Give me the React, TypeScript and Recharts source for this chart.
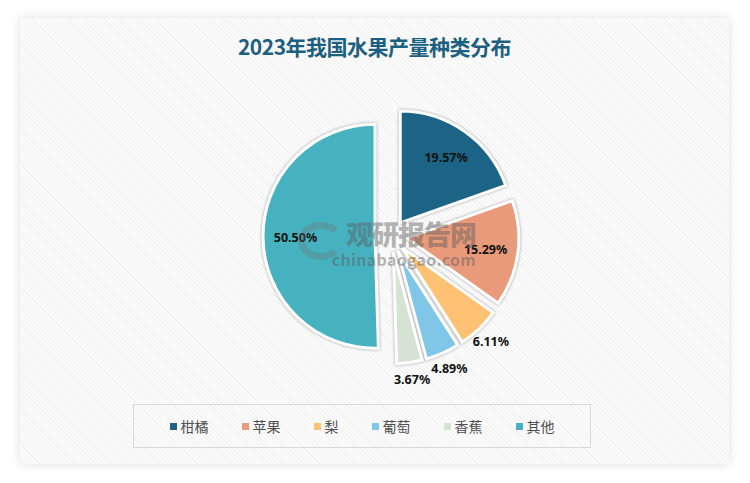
import { PieChart, Pie, Cell, Sector, Legend } from "recharts";

const TITLE = "2023年我国水果产量种类分布";
const CATEGORIES = ["柑橘", "苹果", "梨", "葡萄", "香蕉", "其他"];
const SHARES = [19.57, 15.29, 6.11, 4.89, 3.67, 50.5];
const COLORS = ["#1b6485", "#e89a7a", "#ffc274", "#80c6e7", "#d4e3d2", "#47b2bf"];

const RAD = Math.PI / 180;
const EXPLODE = 16;

const data = CATEGORIES.map((name, i) => ({ name, value: SHARES[i] }));

// every slice is pulled out along its mid angle
const renderSlice = (props: any) => {
  const { cx, cy, midAngle, innerRadius, outerRadius, startAngle, endAngle, fill } = props;
  const dx = EXPLODE * Math.cos(-midAngle * RAD);
  const dy = EXPLODE * Math.sin(-midAngle * RAD);
  return (
    <Sector
      cx={cx + dx}
      cy={cy + dy}
      innerRadius={innerRadius}
      outerRadius={outerRadius}
      startAngle={startAngle}
      endAngle={endAngle}
      fill={fill}
      stroke="#ffffff"
      strokeWidth={3}
      style={{ filter: "drop-shadow(0 0 1.5px rgba(0,0,0,0.35))" }}
    />
  );
};

const renderLabel = (props: any) => {
  const { cx, cy, midAngle, outerRadius, percent, value } = props;
  const r = (percent > 0.1 ? outerRadius * 0.71 : outerRadius + 17) + EXPLODE;
  const x = cx + r * Math.cos(-midAngle * RAD);
  const y = cy + r * Math.sin(-midAngle * RAD);
  return (
    <text
      x={x}
      y={y}
      textAnchor="middle"
      dominantBaseline="central"
      fontFamily="'Noto Sans', sans-serif"
      fontWeight={700}
      fontSize={12.5}
      fill="#111"
    >
      {Number(value).toFixed(2)}%
    </text>
  );
};

const renderLegend = (props: any) => {
  const items = [...(props.payload || [])].sort(
    (a: any, b: any) => CATEGORIES.indexOf(a.value) - CATEGORIES.indexOf(b.value)
  );
  return (
    <div
      style={{
        width: 458,
        height: 44,
        border: "1.5px solid #d9d9d9",
        display: "flex",
        alignItems: "center",
        justifyContent: "center",
        gap: 33,
        boxSizing: "border-box",
        fontFamily: "'Noto Sans CJK SC', sans-serif",
        fontSize: 14,
        color: "#505050",
      }}
    >
      {items.map((entry: any) => (
        <span key={entry.value} style={{ display: "flex", alignItems: "center", gap: 4 }}>
          <span style={{ width: 7, height: 7, background: entry.color, display: "inline-block" }} />
          {entry.value}
        </span>
      ))}
    </div>
  );
};

export default function App() {
  return (
    <div style={{ position: "absolute", left: 0, top: 0, width: 750, height: 483, background: "#fff" }}>
      <div
        style={{
          position: "absolute",
          left: 20,
          top: 18,
          width: 709,
          height: 446,
          boxShadow: "0 0 10px rgba(0,0,0,0.13)",
          background:
            "repeating-linear-gradient(45deg, #fbfbfb 0px, #fbfbfb 2px, #f2f2f2 2px, #f2f2f2 3px)",
        }}
      />
      <div
        style={{
          position: "absolute",
          left: 20,
          top: 31,
          width: 709,
          textAlign: "center",
          fontFamily: "'Noto Sans CJK SC', sans-serif",
          fontWeight: 700,
          fontSize: 21,
          color: "#1d5f80",
          letterSpacing: -0.5,
        }}
      >
        {TITLE}
      </div>
      <div style={{ position: "absolute", left: 0, top: 0 }}>
        <PieChart width={750} height={483}>
          <Pie
            data={data}
            dataKey="value"
            nameKey="name"
            cx={386}
            cy={231}
            outerRadius={112}
            startAngle={90}
            endAngle={-270}
            stroke="#ffffff"
            isAnimationActive={false}
            label={renderLabel}
            labelLine={false}
            shape={renderSlice}
          >
            {data.map((d, i) => (
              <Cell key={d.name} fill={COLORS[i]} />
            ))}
          </Pie>
          <Legend
            content={renderLegend}
            wrapperStyle={{ position: "absolute", left: 133, top: 404, width: 458 }}
          />
        </PieChart>
      </div>
      {/* watermark */}
      <div
        style={{
          position: "absolute",
          left: 296,
          top: 218,
          width: 180,
          pointerEvents: "none",
          fontFamily: "'Noto Sans CJK SC', sans-serif",
          color: "rgba(90,90,90,0.45)",
          textAlign: "right",
        }}
      >
        <div style={{ position: "absolute", left: 2, top: 4, width: 46, height: 38, borderRadius: "50%", border: "7px solid rgba(110,110,110,0.3)", borderRightColor: "transparent", boxSizing: "border-box" }} />
        <div style={{ fontSize: 27, fontWeight: 900, lineHeight: "32px", letterSpacing: -1 }}>观研报告网</div>
        <div style={{ fontSize: 16, fontWeight: 700, lineHeight: "18px", letterSpacing: 0.3 }}>chinabaogao.com</div>
      </div>
    </div>
  );
}
